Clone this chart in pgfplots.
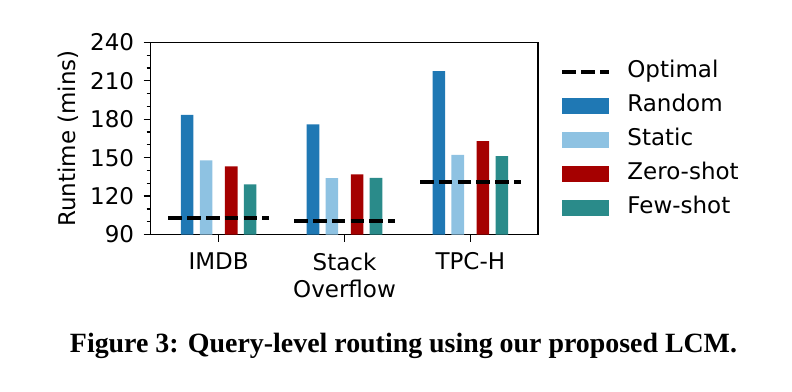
\documentclass[border=0pt]{standalone}
\usepackage{fontspec}
\setmainfont{DejaVu Sans}
\newfontfamily\capfont{Liberation Serif}
\usepackage{graphicx}
\usepackage{pgfplots}
\pgfplotsset{compat=1.18}
\definecolor{crandom}{RGB}{31,120,180}
\definecolor{cstatic}{RGB}{142,194,226}
\definecolor{czero}{RGB}{165,0,0}
\definecolor{cfew}{RGB}{42,139,138}
\begin{document}
\begin{tikzpicture}
\useasboundingbox (0,0) rectangle (396pt,195.5pt);
\begin{axis}[
  at={(75.35pt,78.25pt)}, anchor=south west,
  scale only axis, width=193.8pt, height=96pt,
  xmin=-0.54, xmax=2.54, ymin=90, ymax=240,
  xtick={0,1,2}, xticklabels={IMDB,{Stack\\Overflow},TPC-H},
  ytick={90,120,...,240},
  minor ytick={100,110,130,140,160,170,190,200,220,230},
  tick align=outside, major tick length=3.5pt, minor tick length=2pt,
  xtick pos=bottom, ytick pos=left,
  every tick/.style={black, line width=0.6pt},
  axis line style={line width=0.8pt},
  /pgf/number format/assume math mode=true,
  tick label style={font=\fontsize{11.5}{13.5}\selectfont},
  yticklabel style={inner xsep=4.6pt},
  xticklabel style={align=center, yshift=-2.1pt},
  ylabel={Runtime (mins)},
  ylabel style={font=\fontsize{11.5}{13.5}\selectfont, at={(axis description cs:-0.2115,0.5)}, anchor=center},
  legend style={at={(1,1)}, anchor=north west, xshift=10.85pt, yshift=-9pt,
    draw=none, fill=none, inner sep=0pt,
    font=\fontsize{11.5}{13.5}\selectfont,
    nodes={text height=8.5pt, text depth=2.5pt, inner sep=0pt},
    row sep=6pt,
    /tikz/every odd column/.append style={column sep=8pt}},
  legend cell align=left,
  clip=true,
]
\addlegendimage{legend image code/.code={\draw[black, line width=2pt, dash pattern=on 6.8pt off 2.6pt] (0pt,0pt) -- (23.5pt,0pt);}}
\addlegendentry{Optimal}
\addplot[ybar, bar width=0.1, bar shift=-0.25, fill=crandom, draw=none,
  legend image code/.code={\fill[crandom] (0pt,-3.9pt) rectangle (23.5pt,3.9pt);}]
  coordinates {(0,183.5) (1,176) (2,217.7)};
\addlegendentry{Random}
\addplot[ybar, bar width=0.1, bar shift=-0.1, fill=cstatic, draw=none,
  legend image code/.code={\fill[cstatic] (0pt,-3.9pt) rectangle (23.5pt,3.9pt);}]
  coordinates {(0,148) (1,134) (2,152.3)};
\addlegendentry{Static}
\addplot[ybar, bar width=0.1, bar shift=0.1, fill=czero, draw=none,
  legend image code/.code={\fill[czero] (0pt,-3.9pt) rectangle (23.5pt,3.9pt);}]
  coordinates {(0,143.3) (1,137) (2,163)};
\addlegendentry{Zero-shot}
\addplot[ybar, bar width=0.1, bar shift=0.25, fill=cfew, draw=none,
  legend image code/.code={\fill[cfew] (0pt,-3.9pt) rectangle (23.5pt,3.9pt);}]
  coordinates {(0,129.2) (1,134.3) (2,151.3)};
\addlegendentry{Few-shot}
\addplot[black, line width=2pt, dash pattern=on 6.8pt off 2.6pt, forget plot] coordinates {(-0.4,103.1) (0.4,103.1)};
\addplot[black, line width=2pt, dash pattern=on 6.8pt off 2.6pt, forget plot] coordinates {(0.6,100.7) (1.4,100.7)};
\addplot[black, line width=2pt, dash pattern=on 6.8pt off 2.6pt, forget plot] coordinates {(1.6,130.8) (2.4,130.8)};
\end{axis}
\node at (201.75pt,22.5pt) {\resizebox{333.5pt}{!}{\capfont\bfseries Figure 3: Query-level routing using our proposed LCM.}};
\end{tikzpicture}
\end{document}
